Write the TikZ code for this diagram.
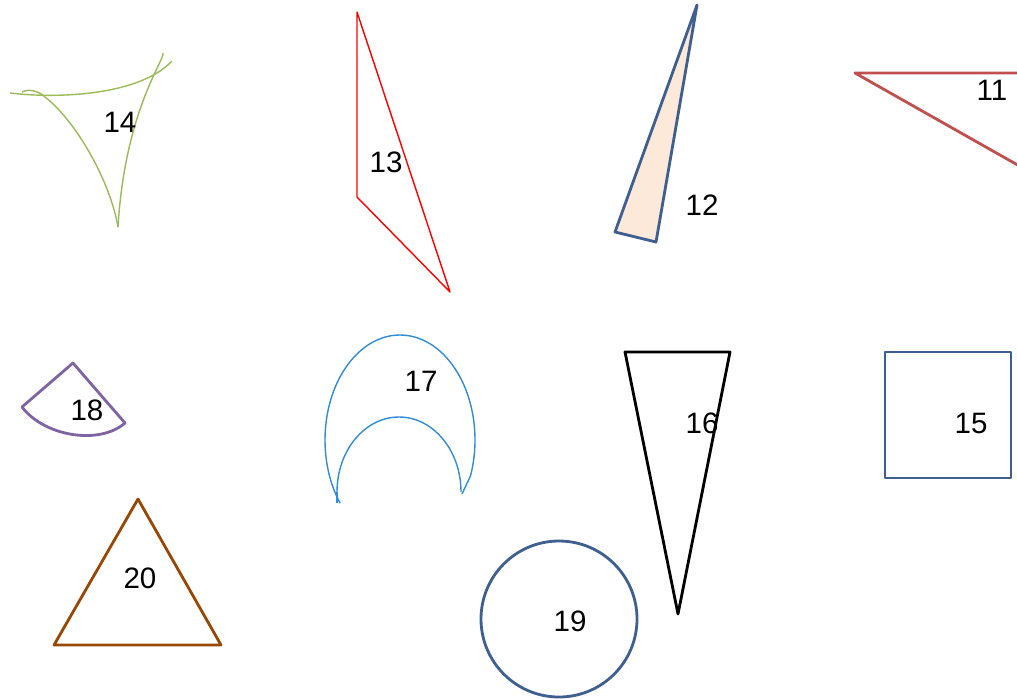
\documentclass[tikz,border=0pt]{standalone}
\usepackage{fontspec}
\setmainfont{Liberation Sans}
\definecolor{shapeblue}{RGB}{63,96,142}
\definecolor{shapered}{RGB}{192,80,77}
\definecolor{shapegreen}{RGB}{155,187,89}
\definecolor{shapepurple}{RGB}{128,100,162}
\definecolor{shapesky}{RGB}{50,140,215}
\definecolor{shapebrown}{RGB}{151,72,7}
\definecolor{shapepeach}{RGB}{253,233,217}
\tikzset{numlabel/.style={inner sep=0pt, font=\fontsize{21}{25}\selectfont}}

\begin{document}
\begin{tikzpicture}[x=0.025cm, y=-0.025cm, line join=round]
        \useasboundingbox (0,0) rectangle (1017,699);
        \clip (0,0) rectangle (1017,699);

        % Curved Triangle 14
        \draw[shapegreen, line width=1pt] (10,93) .. controls (60,99) and (140,95) .. (172,61);
        \draw[shapegreen, line width=1pt] (22,92) .. controls (30,88) and (40,92) .. (45,97) .. controls (75,120) and (110,180) .. (118,227);
        \draw[shapegreen, line width=1pt] (163,53) .. controls (165,60) and (125,110) .. (118,227);
        \node[numlabel] (n14) at (120,122) {14};

        % Red Triangle 13
        \draw[red, line width=1pt] (357,12) -- (450,292) -- (357,197) -- cycle;
        \node[numlabel] (n13) at (386,162) {13};

        % Thin Triangle 12
        \draw[shapeblue, fill=shapepeach, line width=2pt] (697,5) -- (656,242) -- (615,232) -- cycle;
        \node[numlabel] (n12) at (702,205) {12};

        % Triangle 11 at the right edge
        \draw[shapered, line width=2pt] (1030,73) -- (855,73) -- (1030,172);
        \node[numlabel] (n11) at (992,90) {11};

        % Sector 18
        \draw[shapepurple, line width=2pt] (73,363) -- (22,407) .. controls (45,437) and (100,445) .. (125,423) -- cycle;
        \node[numlabel] (n18) at (87,410) {18};

        % Moon 17
        \draw[shapesky, line width=1pt] (400,440) ++(143:75 and 105) arc[start angle=143, end angle=380, x radius=75, y radius=105] -- (462,494);
        \draw[shapesky, line width=1pt] (337,503) -- (337,492);
        \draw[shapesky, line width=1pt] (399,492) ++(180:62 and 75) arc[start angle=180, end angle=360, x radius=62, y radius=75];
        \node[numlabel] (n17) at (421,381) {17};

        % Long Triangle 16
        \draw[black, line width=2pt] (625,352) -- (730,352) -- (678,614) -- cycle;
        \node[numlabel] (n16) at (702,423) {16};

        % Square 15
        \draw[shapeblue, line width=2pt] (885,352) rectangle (1011,478);
        \node[numlabel] (n15) at (971,423) {15};

        % Triangle 20
        \draw[shapebrown, line width=2pt] (138,499) -- (221,645) -- (54,645) -- cycle;
        \node[numlabel] (n20) at (140,578) {20};

        % Circle 19
        \draw[shapeblue, line width=2pt] (559,619) circle[radius=78];
        \node[numlabel] (n19) at (570,621) {19};
    \end{tikzpicture}
\end{document}
